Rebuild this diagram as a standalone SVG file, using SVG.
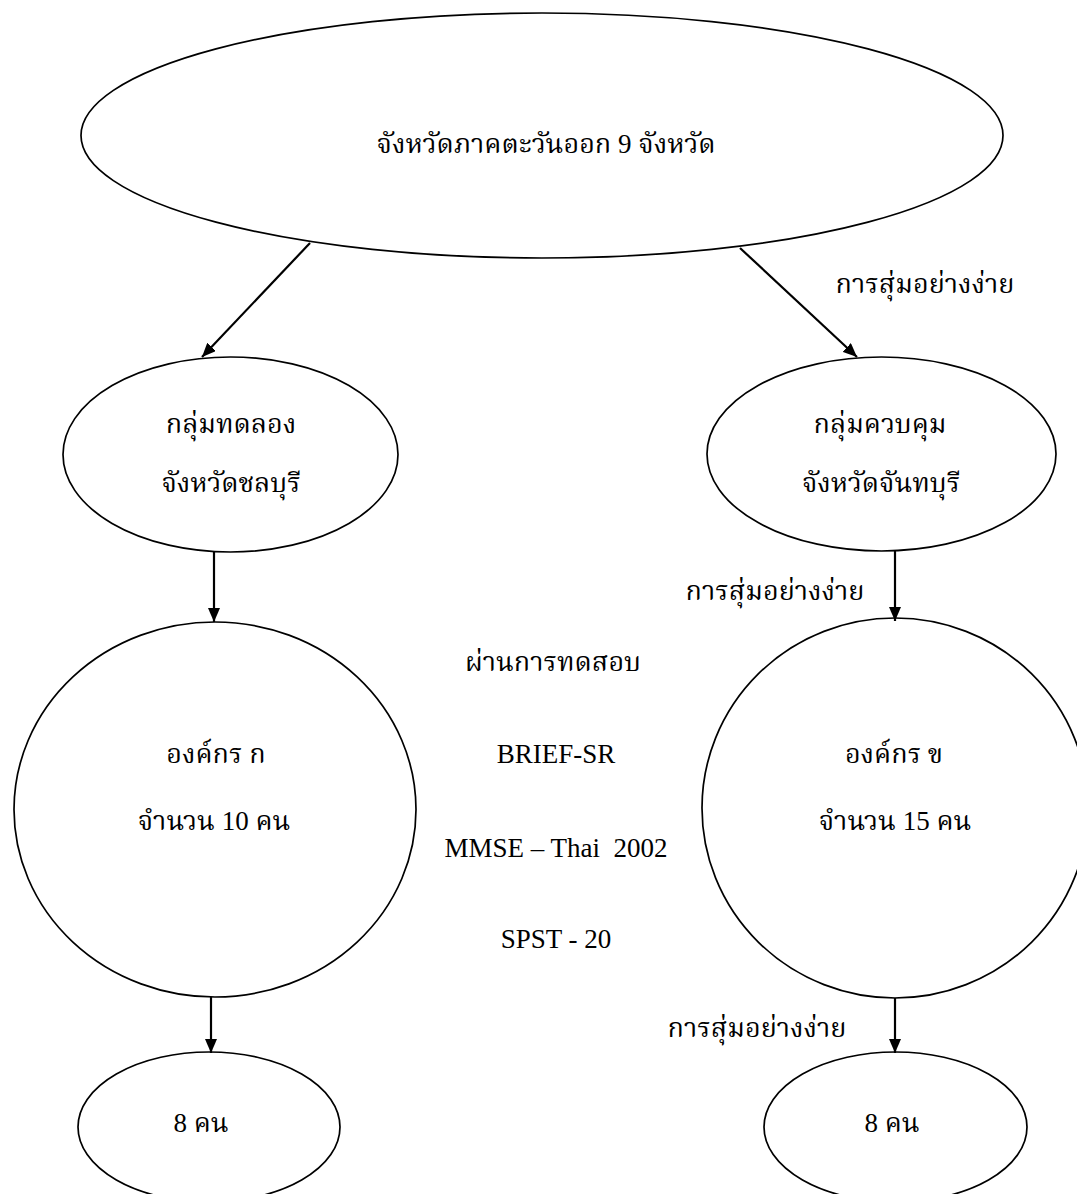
<svg xmlns="http://www.w3.org/2000/svg" width="1077" height="1194" viewBox="0 0 1077 1194">
<defs>
<marker id="ah" markerWidth="14" markerHeight="12" refX="14" refY="6" viewBox="0 0 14 12" markerUnits="userSpaceOnUse" orient="auto">
<path d="M0,0 L14,6 L0,12 Z" fill="#000"/>
</marker>
<style>
.n{fill:#fff;stroke:#000;stroke-width:1.7}
.c{stroke:#000;stroke-width:2.2;fill:none;marker-end:url(#ah)}
text{font-family:"Liberation Serif","Noto Serif Thai","Noto Sans Thai",serif;font-size:27px;fill:#000}
.m{text-anchor:middle}
</style>
</defs>
<rect width="1077" height="1194" fill="#fff"/>
<g id="top">
<ellipse class="n" cx="542" cy="135.5" rx="461" ry="122.5"/>
<text class="m" x="546" y="153">จังหวัดภาคตะวันออก 9 จังหวัด</text>
</g>
<g id="experiment">
<ellipse class="n" cx="230.5" cy="454.5" rx="167.5" ry="97.5"/>
<text class="m" x="231" y="433">กลุ่มทดลอง</text>
<text class="m" x="231" y="492">จังหวัดชลบุรี</text>
</g>
<g id="control">
<ellipse class="n" cx="881.5" cy="454" rx="174.5" ry="97"/>
<text class="m" x="880" y="433">กลุ่มควบคุม</text>
<text class="m" x="881" y="492">จังหวัดจันทบุรี</text>
</g>
<g id="orgA">
<ellipse class="n" cx="215" cy="809.5" rx="201" ry="187.5"/>
<text class="m" x="216" y="763">องค์กร ก</text>
<text class="m" x="214" y="830">จำนวน 10 คน</text>
</g>
<g id="orgB">
<ellipse class="n" cx="895" cy="808" rx="193" ry="190"/>
<text class="m" x="894" y="763">องค์กร ข</text>
<text class="m" x="895" y="830">จำนวน 15 คน</text>
</g>
<g id="finalA">
<ellipse class="n" cx="209" cy="1127" rx="131" ry="75"/>
<text class="m" x="201" y="1132">8 คน</text>
</g>
<g id="finalB">
<ellipse class="n" cx="895.5" cy="1127" rx="131.5" ry="75"/>
<text class="m" x="892" y="1132">8 คน</text>
</g>
<g id="connectors">
<line class="c" x1="310" y1="243" x2="202" y2="357"/>
<line class="c" x1="740" y1="248" x2="857" y2="357"/>
<line class="c" x1="214" y1="552" x2="214" y2="622"/>
<line class="c" x1="895" y1="551" x2="895" y2="621"/>
<line class="c" x1="211" y1="997" x2="211" y2="1053"/>
<line class="c" x1="895" y1="998" x2="895" y2="1053"/>
</g>
<g id="labels">
<text class="m" x="925" y="293">การสุ่มอย่างง่าย</text>
<text class="m" x="775" y="600">การสุ่มอย่างง่าย</text>
<text class="m" x="757" y="1037">การสุ่มอย่างง่าย</text>
<text class="m" x="553" y="671">ผ่านการทดสอบ</text>
<text class="m" x="556" y="763">BRIEF-SR</text>
<text class="m" x="556" y="857" xml:space="preserve">MMSE – Thai  2002</text>
<text class="m" x="556" y="948">SPST - 20</text>
</g>
</svg>
